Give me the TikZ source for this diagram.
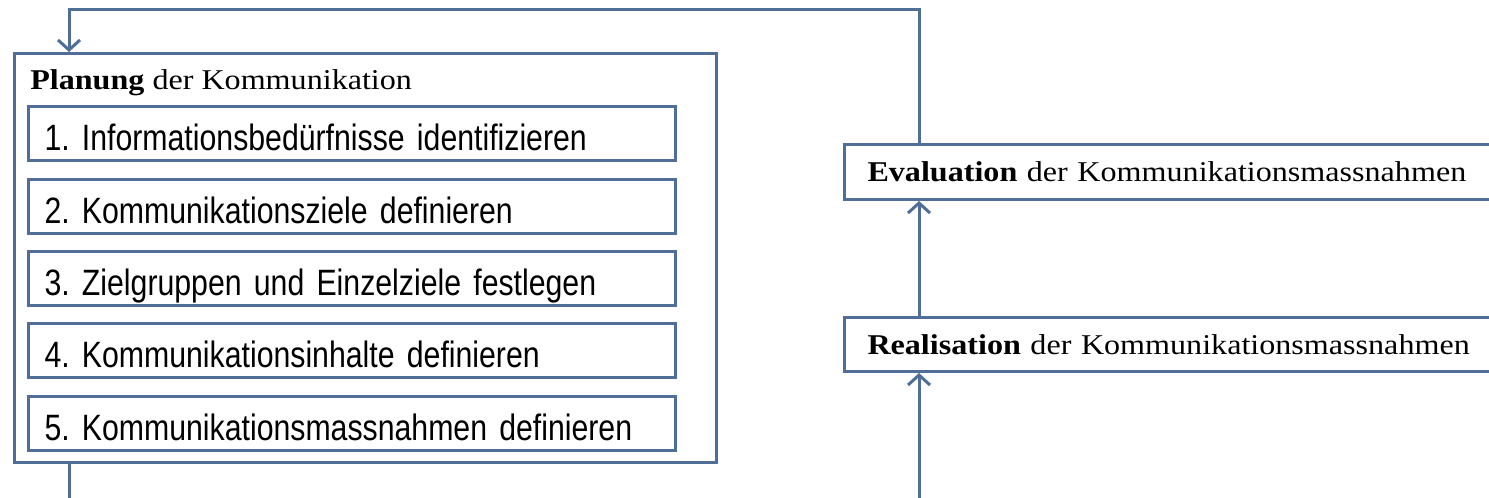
\documentclass[tikz,border=0pt]{standalone}
\usepackage{fontspec}
\setmainfont{Liberation Serif}
\newfontfamily\titlefont[FakeStretch=1.12]{Liberation Serif}
\newfontfamily\stepfont[FakeStretch=0.825]{Liberation Sans}
\usetikzlibrary{arrows.meta}
\definecolor{frame}{RGB}{79,111,150}
\frenchspacing
\begin{document}
\begin{tikzpicture}[x=0.75pt,y=-0.75pt,
  frameline/.style={draw=frame, line width=2.25pt},
  arr/.style={frameline, -{Straight Barb[length=7.5pt,width=16.5pt]}},
  outerbox/.style={frameline, anchor=north west, minimum width=526.5pt, minimum height=306.75pt, inner sep=0pt},
  stepbox/.style={frameline, anchor=north west, text width=461.25pt, inner xsep=12pt, inner ysep=0pt,
    minimum height=40.5pt, align=left, text height=25.5pt, text depth=0pt,
    font=\stepfont\fontsize{27.5}{30}\selectfont},
  phasebox/.style={frameline, anchor=north west, text width=490.5pt, inner xsep=17.25pt, inner ysep=0pt,
    align=left, text height=14.5pt, text depth=0pt,
    font=\titlefont\fontsize{21.5}{24}\selectfont},
  titletext/.style={anchor=base west, inner sep=0pt, font=\titlefont\fontsize{21.5}{24}\selectfont}
]
\clip (0,0) rectangle (1489,498);
\fill[white] (0,0) rectangle (1489,498);

\node[outerbox] (plan) at (13,52) {};
\node[titletext] (plantitle) at (30,90) {\textbf{Planung} der Kommunikation};
\node[stepbox] (s1) at (27,105) {1. Informationsbedürfnisse identifizieren};
\node[stepbox] (s2) at (27,178) {2. Kommunikationsziele definieren};
\node[stepbox] (s3) at (27,250) {3. Zielgruppen und Einzelziele festlegen};
\node[stepbox] (s4) at (27,322) {4. Kommunikationsinhalte definieren};
\node[stepbox] (s5) at (27,395) {5. Kommunikationsmassnahmen definieren};

\node[phasebox, minimum height=41.25pt] (eval) at (843,143) {\textbf{Evaluation} der Kommunikationsmassnahmen};
\node[phasebox, minimum height=40.5pt] (real) at (843,316) {\textbf{Realisation} der Kommunikationsmassnahmen};

\coordinate (top) at (69,10);
\coordinate (xr) at (919,10);
\coordinate (bin) at (919,498);
\coordinate (bout) at (69,498);

\draw[arr] (eval.north -| xr) |- (top) -- (plan.north -| top);
\draw[arr] (real.north -| xr) -- (eval.south -| xr);
\draw[arr] (bin) -- (real.south -| bin);
\draw[frameline] (plan.south -| bout) -- (bout);
\end{tikzpicture}
\end{document}
